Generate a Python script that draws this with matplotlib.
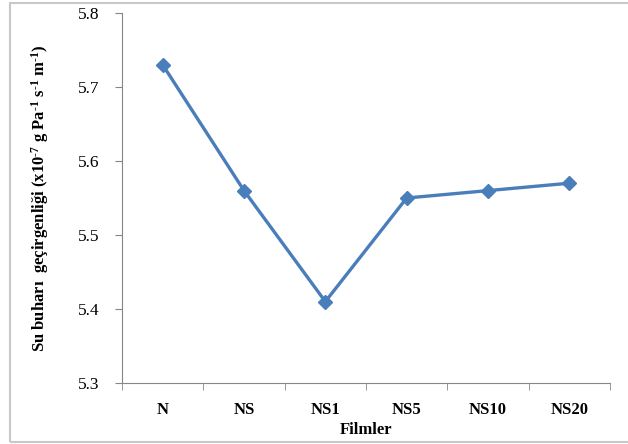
import matplotlib.pyplot as plt
from matplotlib.patches import Rectangle

filmler = ['N', 'NS', 'NS1', 'NS5', 'NS10', 'NS20']
gecirgenlik = [5.73, 5.56, 5.41, 5.55, 5.56, 5.57]
y_ticks = [5.3, 5.4, 5.5, 5.6, 5.7, 5.8]

plt.rcParams['font.family'] = ['Liberation Serif', 'DejaVu Serif']
plt.rcParams['mathtext.fontset'] = 'custom'
plt.rcParams['mathtext.rm'] = 'Liberation Serif:bold'
plt.rcParams['mathtext.bf'] = 'Liberation Serif:bold'
plt.rcParams['mathtext.default'] = 'bf'

fig = plt.figure(figsize=(6.28, 4.44), dpi=100)
ax = fig.add_axes([122 / 628, 1 - 383 / 444, (610 - 122) / 628, (383 - 13) / 444])

# outer frame like the source document
fig.patches.append(Rectangle((10 / 628, 2 / 444), 1.2, 439 / 444, transform=fig.transFigure,
                             fill=False, edgecolor='#c8c8c8', linewidth=1.5))

x = range(len(filmler))
ax.plot(x, gecirgenlik, color='#4a7ebb', linewidth=2.4, marker='D', markersize=7,
        markerfacecolor='#4a7ebb', markeredgecolor='#4a7ebb')

ax.set_xlim(-0.5, len(filmler) - 0.5)
ax.set_ylim(5.3, 5.8)
ax.set_yticks(y_ticks)
ax.set_yticklabels([f"{v:.1f}" for v in y_ticks], fontsize=12.5)
ax.set_xticks(list(x))
ax.set_xticklabels(filmler, fontsize=12, fontweight='bold')
ax.set_xticks([i - 0.5 for i in range(len(filmler) + 1)], minor=True)
ax.tick_params(axis='x', which='major', length=0, pad=14)
ax.tick_params(axis='x', which='minor', length=5, direction='out', color='#868686')
ax.tick_params(axis='y', length=5, direction='out', color='#868686', pad=11)

for side in ['top', 'right']:
    ax.spines[side].set_visible(False)
for side in ['left', 'bottom']:
    ax.spines[side].set_color('#868686')

ax.set_xlabel('Filmler', fontsize=12, fontweight='bold')
ax.xaxis.set_label_coords(0.5, -0.105)
ax.set_ylabel(r'Su buharı  geçirgenliği (x10$^{\text{-7}}$ g Pa$^{\text{-1}}$ s$^{\text{-1}}$ m$^{\text{-1}}$)',
              fontsize=12, fontweight='bold')
ax.yaxis.set_label_coords(-0.145, 0.5)

fig.savefig('out.png', dpi=100)
